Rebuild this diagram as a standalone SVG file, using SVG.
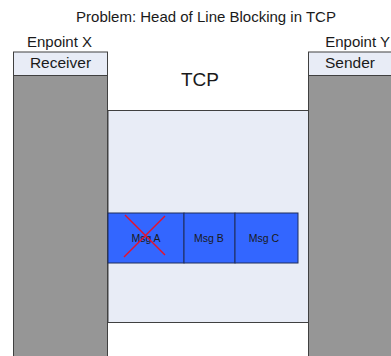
<svg xmlns="http://www.w3.org/2000/svg" width="391" height="356" viewBox="0 0 391 356">
<style>
text{font-family:"Liberation Sans",Arial,sans-serif;fill:#1a1a1a}
.col{fill:#969696;stroke:#404040;stroke-width:1}
.hdr{fill:#e8ecf6;stroke:#404040;stroke-width:1}
.band{fill:#e8ecf6;stroke:#404040;stroke-width:1}
.msg{fill:#3366ff;stroke:#1f2d5a;stroke-width:1}
.mt{font-size:10.5px;text-anchor:middle}
.x{stroke:#e8102a;stroke-width:1.5}
</style>
<rect width="391" height="356" fill="#fff"/>
<text x="206" y="22" font-size="15" text-anchor="middle">Problem: Head of Line Blocking in TCP</text>
<g id="tcp">
<rect class="band" x="108" y="110.5" width="200.5" height="212"/>
<text x="200" y="86" font-size="19" text-anchor="middle">TCP</text>
</g>
<g id="endpointX">
<text x="27" y="47" font-size="15">Enpoint X</text>
<rect class="col" x="13.5" y="75.5" width="94" height="290"/>
<rect class="hdr" x="13.5" y="52" width="94" height="23.5"/>
<text x="60.5" y="68" font-size="15.5" text-anchor="middle">Receiver</text>
</g>
<g id="endpointY">
<text x="390" y="47" font-size="15" text-anchor="end">Enpoint Y</text>
<rect class="col" x="308.5" y="75.5" width="90" height="290"/>
<rect class="hdr" x="308.5" y="52" width="90" height="23.5"/>
<text x="350" y="68" font-size="15.5" text-anchor="middle">Sender</text>
</g>
<g id="msgA">
<rect class="msg" x="108" y="213" width="76" height="50"/>
<text class="mt" x="146" y="241.5">Msg A</text>
</g>
<g id="msgB">
<rect class="msg" x="184" y="213" width="51" height="50"/>
<text class="mt" x="209" y="241.5">Msg B</text>
</g>
<g id="msgC">
<rect class="msg" x="235" y="213" width="63" height="50"/>
<text class="mt" x="264" y="241.5">Msg C</text>
</g>
<g id="connectors">
<line class="x" x1="125" y1="215" x2="165" y2="255"/>
<line class="x" x1="165" y1="216" x2="124" y2="257"/>
</g>
</svg>
